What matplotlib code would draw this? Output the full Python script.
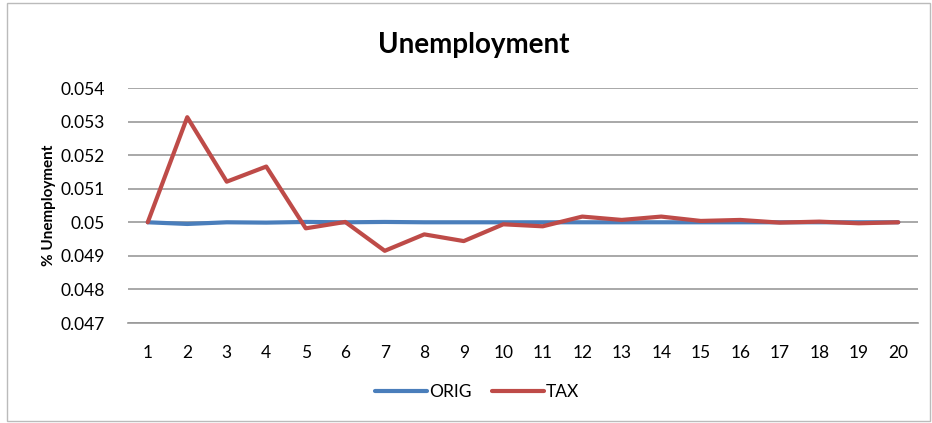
import matplotlib.pyplot as plt
from matplotlib.patches import Rectangle

plt.rcParams['font.family'] = ['Lato', 'DejaVu Sans']

periods = list(range(1, 21))
orig = [0.05, 0.04995, 0.05, 0.04999, 0.05001, 0.05, 0.05001, 0.05, 0.05, 0.05,
        0.05, 0.05, 0.05, 0.05, 0.05, 0.05, 0.05, 0.05, 0.05, 0.05]
tax = [0.05, 0.05313, 0.05121, 0.05166, 0.04982, 0.05001, 0.04915, 0.04964, 0.04944, 0.04994,
       0.04988, 0.05017, 0.05007, 0.05017, 0.05004, 0.05007, 0.04999, 0.05002, 0.04997, 0.05]
yticks = [0.047, 0.048, 0.049, 0.05, 0.051, 0.052, 0.053, 0.054]

W, H = 932, 423
fig = plt.figure(figsize=(W / 100, H / 100), dpi=100)
ax = fig.add_axes([128 / W, 1 - 323 / H, (918 - 128) / W, (323 - 88) / H])

ax.plot(periods, orig, color='#4a7ebb', lw=3, label='ORIG', solid_capstyle='round')
ax.plot(periods, tax, color='#be4b48', lw=3, label='TAX', solid_capstyle='round')

ax.set_xlim(0.5, 20.5)
ax.set_ylim(0.047, 0.054)
ax.set_yticks(yticks)
ax.set_yticklabels([f'{v:g}' for v in yticks])
ax.set_xticks(periods)
ax.grid(axis='y', color='#999999', lw=1.2)
ax.set_axisbelow(True)
for s in ['top', 'right', 'left']:
    ax.spines[s].set_visible(False)
ax.spines['bottom'].set_color('#999999')
ax.spines['bottom'].set_linewidth(1.2)
ax.tick_params(length=0, labelsize=12.5, colors='black')
ax.tick_params(axis='y', pad=17)
ax.tick_params(axis='x', pad=16)

ax.set_ylabel('% Unemployment', fontsize=11, fontweight='bold', labelpad=3)
fig.text(474 / W, 1 - 45 / H, 'Unemployment', ha='center', va='center',
         fontsize=20, fontweight='bold')

fig.legend(loc='center', bbox_to_anchor=(477 / W, 1 - 392 / H), ncol=2, frameon=False,
           fontsize=12.5, handlelength=3.0, handletextpad=0.1, columnspacing=1.2)

fig.patches.append(Rectangle((7 / W, 1 - 421 / H), (930 - 7) / W, (421 - 3) / H,
                             transform=fig.transFigure, fill=False, ec='#bbbbbb', lw=1))

fig.savefig('out.png', dpi=100)
